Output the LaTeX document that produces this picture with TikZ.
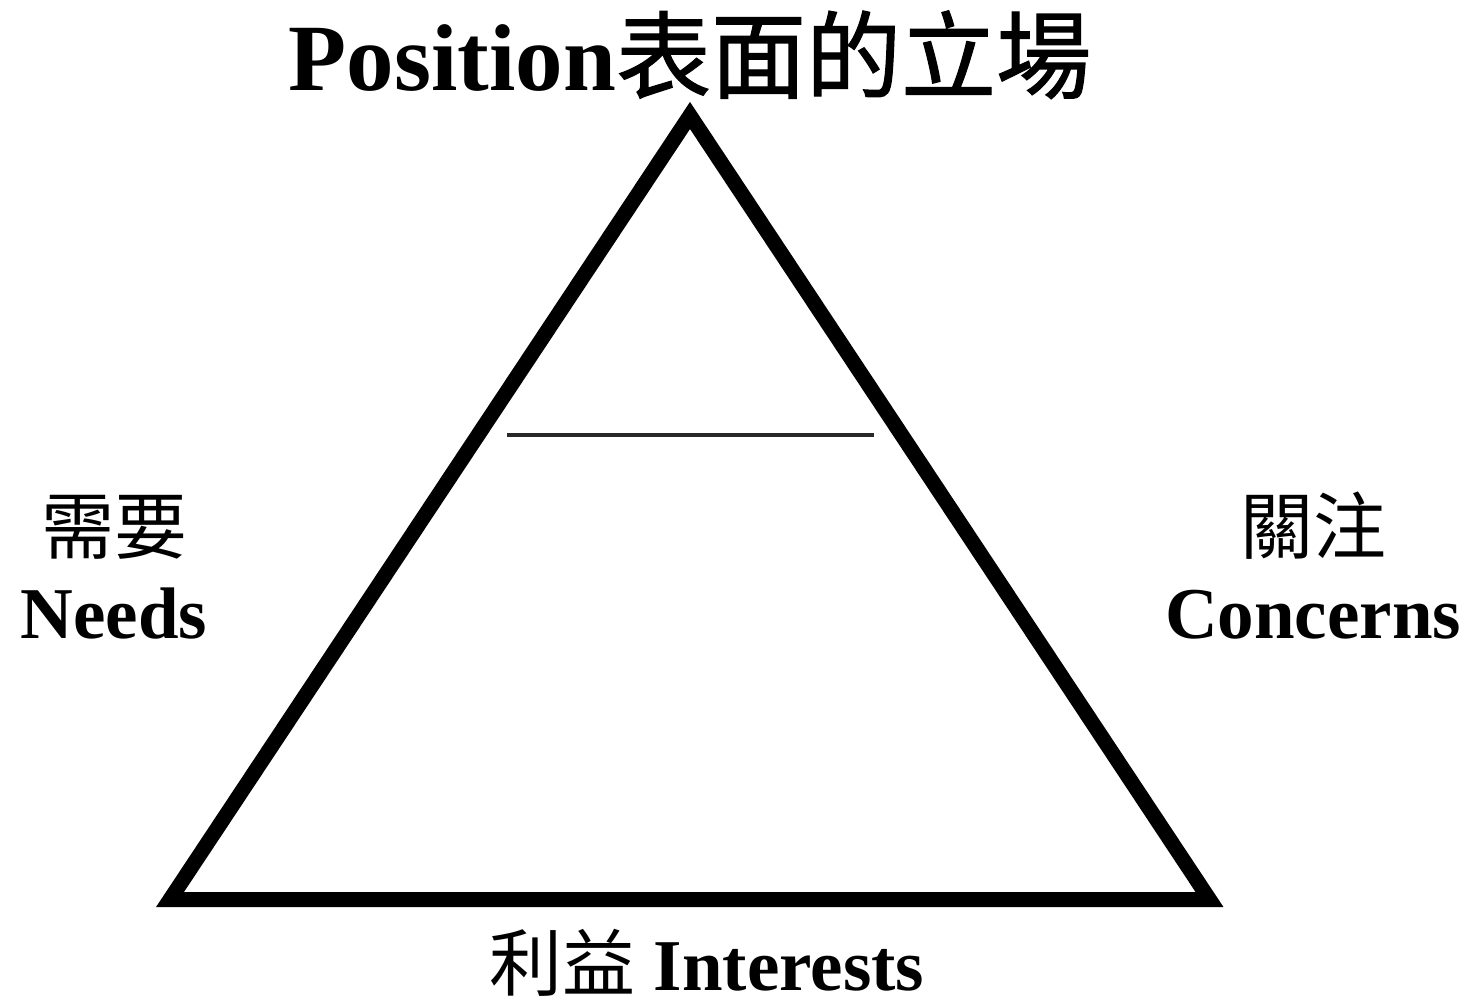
\documentclass[tikz,border=0pt]{standalone}
\usepackage{fontspec}
\setmainfont{Liberation Serif}
\newfontfamily\cjk{Noto Sans CJK TC}
\newfontfamily\cjkt[FakeBold=1.2]{Noto Sans CJK TC}
\begin{document}
\begin{tikzpicture}[x=1pt,y=-1pt,
  lbl/.style={inner sep=0pt, outer sep=0pt, anchor=base, font=\fontsize{73}{73}\selectfont},
  ttl/.style={inner sep=0pt, outer sep=0pt, anchor=base, font=\fontsize{95}{95}\selectfont},
  tri/.style={line width=15pt, line join=miter, black},
  sep/.style={line width=4pt, draw={rgb,255:red,40;green,40;blue,40}}]
\useasboundingbox (0,0) rectangle (1471,1006);
\coordinate (A) at (690,115.5);
\coordinate (B) at (170,899.5);
\coordinate (C) at (1209.5,899.5);
\draw[tri] (A) -- (B) -- (C) -- cycle;
\coordinate (L1) at (507,434.5);
\coordinate (L2) at (874,434.5);
\draw[sep] (L1) -- (L2);
\node[ttl] (title) at (690,91) {\textbf{Position}{\cjkt 表面的立場}};
\node[lbl] (needszh) at (114,553) {\cjk 需要};
\node[lbl] (needs) at (114,638) {\textbf{Needs}};
\node[lbl] (conczh) at (1313,553) {\cjk 關注};
\node[lbl] (conc) at (1313,638) {\textbf{Concerns}};
\node[lbl, text depth=0pt] (inter) at (707,990) {{\cjk 利益} \textbf{Interests}};
\end{tikzpicture}
\end{document}
